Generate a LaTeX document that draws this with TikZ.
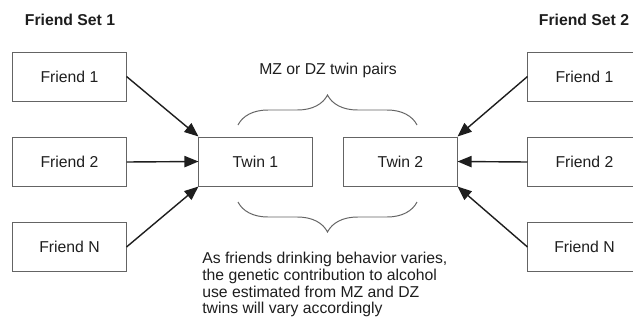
\documentclass[tikz,border=0pt]{standalone}
\usepackage{fontspec}
\setmainfont{Liberation Sans}
\usepackage{tikz}
\usetikzlibrary{arrows.meta,positioning,decorations.pathreplacing}
\definecolor{inkblack}{RGB}{30,30,30}
\definecolor{boxgray}{RGB}{100,100,100}

\begin{document}
\begin{tikzpicture}[x=0.025cm,y=-0.025cm,
  every node/.style={font=\fontsize{11.2}{11.7}\selectfont,text=inkblack},
  settitle/.style={font=\fontsize{11.2}{11.7}\selectfont\bfseries},
  box/.style={draw=boxgray,line width=0.7pt,minimum width=2.825cm,minimum height=1.225cm,inner sep=0pt},
  link/.style={inkblack,line width=1pt,-{Triangle[length=10pt,width=8pt]}},
  pairbrace/.style={boxgray,line width=0.7pt,decorate,decoration={brace,amplitude=0.75cm}}]
\useasboundingbox (0,0) rectangle (633,323);
\clip (0,0) rectangle (633,323);
% Titles
\node[settitle] (set1) at (70,20) {Friend Set 1};
\node[settitle] (set2) at (584,20) {Friend Set 2};
% Friend set 1
\node[box] (f1a) at (69.5,76.5) {Friend 1};
\node[box] (f1b) at (69.5,162) {Friend 2};
\node[box] (f1n) at (69.5,247) {Friend N};
% Twins
\node[box] (twin1) at (255.5,161.5) {Twin 1};
\node[box] (twin2) at (400.5,161.5) {Twin 2};
% Friend set 2
\node[box] (f2a) at (584.5,76.5) {Friend 1};
\node[box] (f2b) at (584.5,162) {Friend 2};
\node[box] (f2n) at (584.5,247) {Friend N};
% Arrows
\draw[link] (f1a.east) -- (twin1.north west);
\draw[link] (f1b.east) -- (twin1.west);
\draw[link] (f1n.east) -- (twin1.south west);
\draw[link] (f2a.west) -- (twin2.north east);
\draw[link] (f2b.west) -- (twin2.east);
\draw[link] (f2n.west) -- (twin2.south east);
% Braces
\draw[pairbrace] (238,125) -- (417,125);
\draw[pairbrace] (417,202) -- (238,202);
\node (pairs) at (328,70) {MZ or DZ twin pairs};
\node[anchor=north west,align=left,inner sep=0pt,font=\fontsize{11.2}{11.85}\selectfont] (note) at (202,252)
  {As friends drinking behavior varies,\\the genetic contribution to alcohol\\use estimated from MZ and DZ\\twins will vary accordingly};
\end{tikzpicture}
\end{document}
